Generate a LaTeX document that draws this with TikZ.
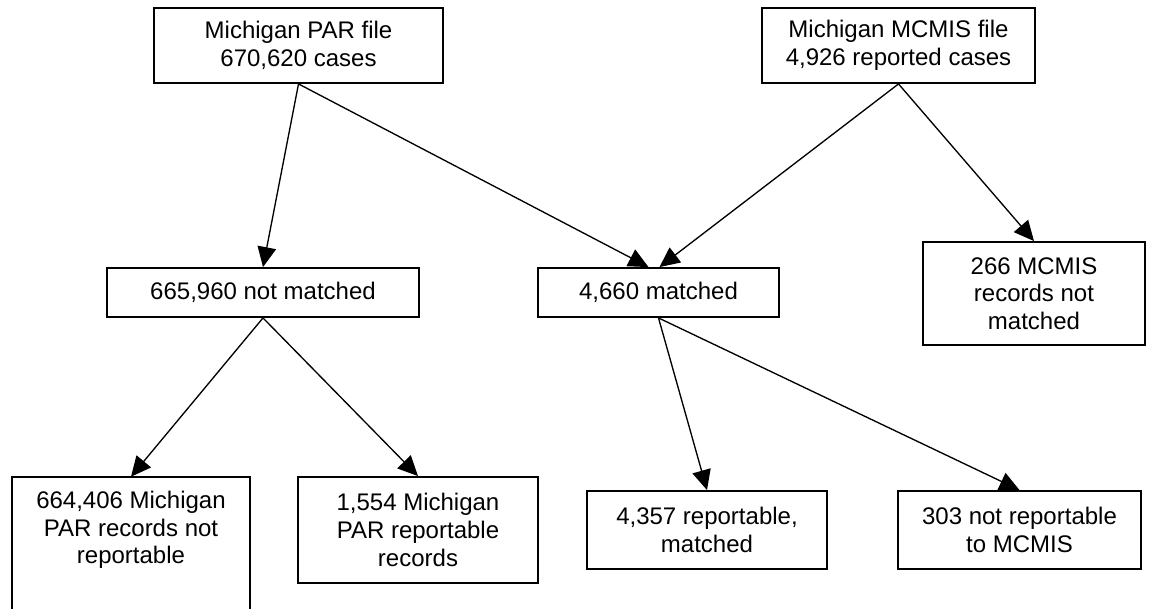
\documentclass[tikz,border=0pt]{standalone}
\usepackage{fontspec}
\setmainfont{Liberation Sans}
\usetikzlibrary{arrows.meta,calc}
\begin{document}
\begin{tikzpicture}[x=0.75pt,y=-0.75pt,
  boxtext/.style={inner sep=0pt, align=center, font=\fontsize{18}{20.7}\selectfont},
  box/.style={boxtext, draw, line width=1.4pt},
  conn/.style={line width=1pt, -{Triangle[length=15pt,width=14pt]}}]
\useasboundingbox (0,0) rectangle (1153,609);
\fill[white] (0,0) rectangle (1153,609);
% top row
\node[box, minimum width=216.75pt, minimum height=56.25pt] (par) at (298.5,45.5) {Michigan PAR file\\670,620 cases};
\node[box, minimum width=204.75pt, minimum height=56.25pt] (mcmis) at (898.5,45.5) {Michigan MCMIS file\\4,926 reported cases};
% middle row
\node[box, minimum width=234pt, minimum height=36.75pt] (nm) at (263,292.5) {665,960 not matched};
\node[box, minimum width=180.75pt, minimum height=36.75pt] (m) at (658.5,292.5) {4,660 matched};
\node[box, minimum width=166.5pt, minimum height=77.25pt] (m266) at (1034,293.5) {266 MCMIS\\records not\\matched};
% bottom row
\node[boxtext, minimum width=178.5pt, minimum height=79.5pt] (b1) at (131,530) {664,406 Michigan\\PAR records not\\reportable};
\draw[line width=1.4pt] ([yshift=-40pt]b1.south west) -- (b1.north west) -- (b1.north east) -- ([yshift=-40pt]b1.south east);
\node[box, minimum width=180pt, minimum height=79.5pt] (b2) at (418,530) {1,554 Michigan\\PAR reportable\\records};
\node[box, minimum width=180pt, minimum height=58.5pt] (b3) at (707,530) {4,357 reportable,\\matched};
\node[box, minimum width=182.25pt, minimum height=58.5pt] (b4) at (1019.5,530) {303 not reportable\\to MCMIS};
% connectors
\draw[conn] (par.south) -- (nm.north);
\draw[conn] (par.south) -- ($(m.north)+(-10,0)$);
\draw[conn] (mcmis.south) -- ($(m.north)+(1,0)$);
\draw[conn] (mcmis.south) -- (m266.north);
\draw[conn] (nm.south) -- (b1.north);
\draw[conn] (nm.south) -- (b2.north);
\draw[conn] (m.south) -- (b3.north);
\draw[conn] (m.south) -- (b4.north);
\end{tikzpicture}
\end{document}
